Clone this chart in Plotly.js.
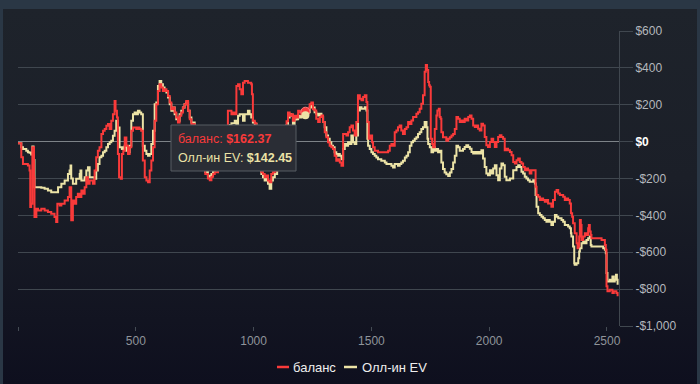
<!DOCTYPE html>
<html>
<head>
<meta charset="utf-8">
<script src="https://cdn.plot.ly/plotly-3.0.1.min.js"></script>
<style>
html,body{margin:0;padding:0;width:700px;height:384px;overflow:hidden;background:#2a3745;}
#card{position:absolute;left:3px;top:9px;width:694px;height:375px;background:linear-gradient(to bottom,#1e232b 0%,#1b1f28 45%,#0e0f1e 100%);}
#chart{position:absolute;left:0;top:0;width:700px;height:384px;}
</style>
</head>
<body>
<div id="card"></div>
<div id="chart"></div>
<script>
// hands (x) and dollar values for the two series
const balHands = [0,14,21,35,42,49,52,56,61,68,70,78,85,99,113,127,141,155,162,167,177,184,198,212,219,226,233,240,247,254,262,269,276,283,290,297,304,318,325,332,339,346,354,361,368,375,382,389,396,403,410,414,420,424,429,436,441,447,453,460,467,474,481,488,502,509,516,523,530,538,545,552,559,566,573,580,587,594,601,608,615,
622,630,637,644,651,658,665,672,679,686,693,700,707,714,722,729,736,750,765,780,795,806,814,821,828,835,849,860,872,884,
891,898,906,913,920,927,934,941,948,955,962,969,976,983,990,993,997,1005,1012,1020,1027,1033,1040,1047,1054,1061,1068,1075,1082,1090,1100,1115,1130,1140,
1146,1153,1160,1167,1174,1182,1189,1196,1203,1210,1220,1231,1238,1245,1252,
1259,1266,1274,1281,1288,1295,1302,1309,1316,1323,1330,1337,1344,1351,1358,1366,1373,1380,1387,1394,1401,1408,1415,1422,1429,1436,1443,1451,1458,1465,1472,1479,1483,1489,1497,1503,1507,1514,1528,1542,1557,1564,1571,1578,1585,1592,1599,1606,1613,1620,1627,1634,1642,1649,1656,1663,1670,1677,1684,1691,1698,1705,1712,1719,1726,1731,1736,1741,1745,1748,1752,1758,1762,1769,1776,1780,1786,1790,1794,1797,1804,1811,1818,1826,1833,1840,1847,1854,1861,1868,1875,1882,1889,
1896,1903,1911,1918,1925,1932,1939,1946,1953,1960,1967,1974,1981,1988,1995,2003,2010,2017,2024,2031,2038,2045,2052,2059,2066,2073,2080,2088,2095,2102,2109,2116,2123,2130,2137,2144,2151,2158,2165,2172,2179,2187,2194,2197,2201,2208,2215,2222,2229,2236,2243,2250,2257,2264,2271,2279,2286,2293,2300,2307,2314,2321,2328,2335,2342,2347,2352,2356,2363,2371,2375,2378,2382,2385,2389,2392,2399,2406,2413,2420,2423,2427,2431,2434,2441,2448,2463,2470,2477,2484,2491,2495,2498,2502,2508,2512,2519,2523,2529,2533,2540,2545];
const balValues = [-9,-85,-121,-121,-130,-157,-355,-337,-31,-193,-409,-364,-373,-364,-373,-382,-391,-409,-436,-337,-346,-337,-319,-301,-247,-427,-319,-337,-301,-283,-301,-265,-283,-247,-193,-229,-211,-229,-157,-85,-49,-31,41,59,68,86,95,68,113,149,221,167,131,-67,-193,-202,-67,-49,23,-22,-67,-31,59,77,68,77,68,59,-103,-193,-211,-220,-157,-103,-31,113,203,275,311,293,275,
284,275,248,212,176,185,158,131,104,140,158,185,203,221,167,122,95,40,-30,-120,-175,-200,-210,-190,-175,-166,-150,-60,-10,60,
167,167,149,158,149,302,311,284,257,320,329,329,320,320,311,257,113,100,60,-20,-120,-166,-175,-193,-184,-211,-220,-175,-166,-157,-120,-40,30,110,
158,140,149,113,140,131,167,158,149,160,162.37,180,203,212,176,
169,124,106,133,142,106,51,24,-4,-22,-31,-40,-76,-104,-95,-113,-131,42,42,33,51,78,87,60,33,106,251,233,224,242,251,215,106,15,33,-4,-31,-49,-58,-58,-58,-58,-49,-22,-13,-22,51,60,78,87,60,42,69,78,106,96,115,133,133,151,160,178,206,251,379,415,388,324,306,297,15,-13,-31,69,142,169,178,133,124,51,24,24,5,15,24,33,42,69,133,124,106,115,106,
124,115,133,142,124,88,79,88,70,61,97,88,25,-20,-29,-2,16,-2,-29,-2,25,34,25,16,-47,-38,-47,-56,-74,-110,-119,-101,-92,-110,-119,-137,-155,-146,-155,-173,-155,-155,-155,-245,-290,-299,-317,-308,-317,-326,-317,-335,-335,-353,-317,-272,-263,-281,-290,-290,-299,-317,-308,-317,-335,-389,-407,-443,-497,-551,-578,-569,-515,-425,-452,-533,-515,-497,-506,-470,-452,-488,-506,-524,-524,-524,-524,-524,-533,-533,-560,-587,-785,-812,-812,-803,-803,-821,-812,-812,-821,-839];

const evHands = [0,14,21,35,42,49,56,61,66,70,85,99,113,127,141,155,170,184,198,212,219,223,226,233,247,262,265,269,283,290,297,304,318,325,332,339,346,354,361,368,375,382,389,396,403,410,417,424,431,441,446,453,460,467,474,481,488,495,502,509,516,523,530,538,545,552,559,566,573,580,587,594,601,608,615,
622,630,637,644,651,658,665,672,679,686,693,700,707,714,722,729,736,750,765,780,795,806,814,821,828,835,849,860,872,884,
891,898,906,920,927,934,941,955,962,976,983,990,997,1005,1012,1020,1027,1033,1040,1047,1054,1061,1068,1075,1082,1090,1100,1115,1130,1140,
1146,1153,1160,1167,1174,1182,1189,1196,1203,1210,1220,1231,1238,1245,1252,
1259,1266,1274,1281,1288,1295,1302,1309,1316,1323,1330,1337,1344,1351,1358,1366,1373,1380,1387,1394,1401,1408,1415,1422,1429,1436,1443,1451,1458,1465,1472,1479,1483,1486,1493,1500,1507,1514,1521,1528,1535,1542,1557,1564,1571,1585,1592,1599,1613,1620,1627,1634,1642,1649,1656,1663,1670,1677,1684,1691,1698,1705,1712,1719,1726,1734,1738,1741,1748,1755,1762,1769,1776,1783,1790,1797,1804,1811,1818,1826,1833,1840,1847,1854,1861,1868,1875,1882,1889,
1896,1903,1911,1918,1925,1932,1939,1946,1953,1960,1967,1974,1981,1988,1995,2003,2010,2017,2024,2031,2038,2045,2052,2059,2066,2073,2080,2088,2095,2102,2109,2116,2123,2130,2137,2144,2151,2158,2165,2172,2179,2187,2194,2197,2201,2208,2215,2222,2229,2236,2243,2250,2257,2264,2271,2279,2286,2293,2300,2307,2314,2321,2328,2335,2342,2347,2349,2356,2361,2363,2371,2378,2382,2385,2392,2399,2406,2413,2420,2427,2431,2434,2441,2448,2463,2477,2484,2491,2495,2498,2502,2508,2512,2519,2523,2529,2533,2538,2542,2545];
const evValues = [-9,-31,-40,-49,-58,-60,-70,-27,-100,-247,-247,-250,-256,-265,-274,-274,-247,-229,-211,-175,-157,-130,-200,-229,-202,-175,-157,-211,-193,-157,-139,-193,-193,-202,-157,-121,-85,-76,-58,-49,-31,-13,-4,5,32,59,113,77,-31,-40,-31,-22,-49,-58,-22,113,149,158,149,167,158,149,-22,-49,-67,-76,-67,-13,59,203,212,302,329,311,293,
275,266,239,203,167,185,149,122,113,149,167,185,203,212,167,131,104,45,-20,-110,-165,-185,-190,-175,-160,-155,-140,-50,-5,40,
86,90,100,113,95,140,149,113,149,167,149,131,104,95,80,0,-110,-175,-193,-211,-202,-229,-256,-211,-193,-175,-130,-50,20,90,
131,149,140,95,120,122,140,131,140,145,142.45,160,185,203,185,
160,151,142,151,133,106,78,33,15,-4,-22,-31,-58,-76,-67,-76,-95,-40,-13,-22,-4,-13,33,-4,-13,33,169,187,178,178,187,169,15,-22,-40,-58,-67,-76,-86,-95,-95,-104,-113,-122,-122,-131,-140,-122,-131,-122,-113,-104,-86,-76,-58,-22,-4,5,15,24,42,51,69,78,106,78,15,-13,-31,-58,-31,-49,-40,-58,-49,-113,-149,-167,-177,-186,-167,-149,-113,-76,-22,-31,-49,-49,-40,
-29,-20,-29,-38,-56,-65,-56,-65,-56,-65,-47,-92,-137,-173,-182,-155,-173,-146,-128,-182,-209,-146,-119,-128,-191,-209,-209,-200,-200,-155,-155,-137,-128,-137,-164,-173,-191,-200,-209,-218,-218,-209,-227,-290,-353,-389,-398,-407,-416,-425,-434,-425,-434,-452,-434,-398,-407,-416,-416,-425,-434,-452,-452,-461,-470,-497,-515,-569,-659,-668,-659,-632,-596,-578,-551,-542,-551,-533,-524,-515,-560,-569,-569,-569,-569,-569,-578,-587,-605,-713,-758,-758,-749,-758,-731,-758,-749,-722,-749,-776];

const seriesNames = ['баланс', 'Олл-ин EV'];
const yTickVals = [-1000,-800,-600,-400,-200,0,200,400,600];
const yTickText = ['-$1,000','-$800','-$600','-$400','-$200','<span style="color:#ffffff"><b>$0</b></span>','$200','$400','$600'];
const xTickVals = [0,500,1000,1500,2000,2500];
const xTickText = ['','500','1000','1500','2000','2500'];
const hoverHand = 1220;

const RED = '#f93a3a', CREAM = '#ece3a6';
const FONT = '"Liberation Sans", Arial, sans-serif';

// plot area geometry helpers (pixel -> paper)
const L = 18, R = 81, T = 31, B = 58, W = 700, H = 384;
const PW = W - L - R, PH = H - T - B;
const px = p => (p - L) / PW;
const py = p => (H - B - p) / PH;

const bi = balHands.indexOf(hoverHand), ei = evHands.indexOf(hoverHand);
const hb = balValues[bi], he = evValues[ei];
const fmt = v => (v < 0 ? '-$' : '$') + Math.abs(v).toFixed(2);

const traces = [
  {x: evHands, y: evValues, type:'scatter', mode:'lines', line:{color:CREAM, width:2, shape:'hv'}, showlegend:false, hoverinfo:'skip'},
  {x: balHands, y: balValues, type:'scatter', mode:'lines', line:{color:RED, width:2, shape:'hv'}, showlegend:false, hoverinfo:'skip'},
  {x:[balHands[bi]], y:[hb], type:'scatter', mode:'markers', marker:{color:RED, size:9, line:{color:'#ff8080', width:1}}, showlegend:false, hoverinfo:'skip'},
  {x:[evHands[ei]], y:[he], type:'scatter', mode:'markers', marker:{color:CREAM, size:8, line:{width:0}}, showlegend:false, hoverinfo:'skip'}
];

const shapes = [
  // tooltip box
  {type:'rect', xref:'paper', yref:'paper', x0:px(171), x1:px(296), y0:py(125), y1:py(171),
   fillcolor:'#2a2d35', line:{color:'#575c63', width:1}, layer:'above'},
  // legend samples
  {type:'line', xref:'paper', yref:'paper', x0:px(277), x1:px(289), y0:py(367), y1:py(367), line:{color:RED, width:2.5}},
  {type:'line', xref:'paper', yref:'paper', x0:px(344), x1:px(357), y0:py(367), y1:py(367), line:{color:CREAM, width:2.5}}
];

const annotations = [
  {xref:'paper', yref:'paper', x:px(176), y:py(139), xanchor:'left', yanchor:'middle', showarrow:false,
   text:'<span style="color:'+RED+'">'+seriesNames[0]+': <b>'+fmt(hb)+'</b></span>', font:{family:FONT, size:12.5}},
  {xref:'paper', yref:'paper', x:px(176), y:py(157.5), xanchor:'left', yanchor:'middle', showarrow:false,
   text:'<span style="color:'+CREAM+'">'+seriesNames[1]+': <b>'+fmt(he)+'</b></span>', font:{family:FONT, size:12.5}},
  {xref:'paper', yref:'paper', x:px(291), y:py(367), xanchor:'left', yanchor:'middle', showarrow:false,
   text:seriesNames[0], font:{family:FONT, size:13, color:'#eeeeee'}},
  {xref:'paper', yref:'paper', x:px(360), y:py(367), xanchor:'left', yanchor:'middle', showarrow:false,
   text:seriesNames[1], font:{family:FONT, size:13, color:'#eeeeee'}}
];

const layout = {
  width:W, height:H,
  margin:{l:L, r:R, t:T, b:B, pad:0},
  paper_bgcolor:'rgba(0,0,0,0)', plot_bgcolor:'rgba(0,0,0,0)',
  font:{family:FONT, size:12, color:'#b4b8bc'},
  showlegend:false,
  xaxis:{range:[0,2551], tickvals:xTickVals, ticktext:xTickText, showgrid:false, zeroline:false,
         ticks:'outside', ticklen:4, tickcolor:'#444b54', tickfont:{color:'#8f949a', size:12}, showline:false, fixedrange:true},
  yaxis:{range:[-1000,600], side:'right', tickvals:yTickVals, ticktext:yTickText, showgrid:true, gridcolor:'#40474f', gridwidth:1,
         zeroline:true, zerolinecolor:'#7d8388', zerolinewidth:1.5, ticks:'outside', ticklen:13, tickcolor:'#40474f',
         showline:true, linecolor:'#40474f', linewidth:1, tickfont:{color:'#b4b8bc', size:12}, fixedrange:true},
  shapes: shapes,
  annotations: annotations
};

Plotly.newPlot('chart', traces, layout, {displayModeBar:false, staticPlot:true});
</script>
</body>
</html>
